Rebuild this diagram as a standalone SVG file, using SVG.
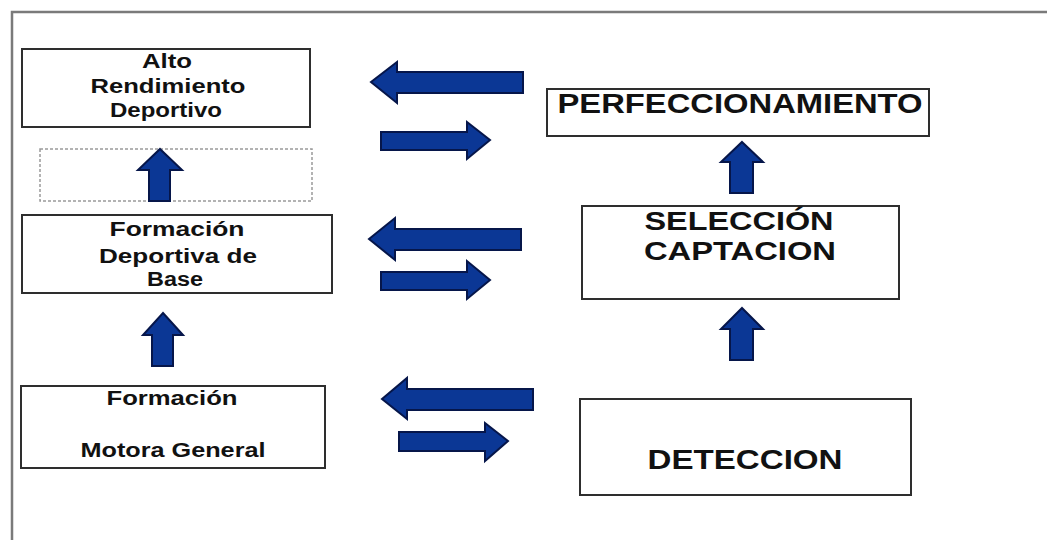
<svg xmlns="http://www.w3.org/2000/svg" width="1047" height="540" viewBox="0 0 1047 540">
<style>
.box{fill:#fff;stroke:#2e2e2e;stroke-width:2}
.dash{fill:none;stroke:#9a9a9a;stroke-width:1.5;stroke-dasharray:3 2}
.arr{fill:#0b3795;stroke:#06164a;stroke-width:2;stroke-linejoin:miter}
.t{font-family:"Liberation Sans",Arial,sans-serif;font-weight:bold;fill:#111;text-anchor:middle}
.s{font-size:20px}
.b{font-size:27px}
.frame{stroke:#7a7a7a;stroke-width:2.5;fill:none}
</style>
<rect width="1047" height="540" fill="#fff"/>
<path class="frame" d="M12,540 L12,12 L1047,12"/>
<g id="alto">
<rect class="box" x="22" y="49" width="288" height="78"/>
<text class="t s" x="167" y="68" textLength="50" lengthAdjust="spacingAndGlyphs">Alto</text>
<text class="t s" x="168" y="93" textLength="155" lengthAdjust="spacingAndGlyphs">Rendimiento</text>
<text class="t s" x="166" y="117" textLength="112" lengthAdjust="spacingAndGlyphs">Deportivo</text>
</g>
<g id="placeholder">
<rect class="dash" x="40" y="149" width="272" height="52"/>
</g>
<g id="deportiva">
<rect class="box" x="22" y="215" width="310" height="78"/>
<text class="t s" x="177" y="236" textLength="135" lengthAdjust="spacingAndGlyphs">Formación</text>
<text class="t s" x="178" y="263" textLength="158" lengthAdjust="spacingAndGlyphs">Deportiva de</text>
<text class="t s" x="175" y="286" textLength="56" lengthAdjust="spacingAndGlyphs">Base</text>
</g>
<g id="motora">
<rect class="box" x="21" y="386" width="304" height="82"/>
<text class="t s" x="172" y="405" textLength="131" lengthAdjust="spacingAndGlyphs">Formación</text>
<text class="t s" x="173" y="457" textLength="185" lengthAdjust="spacingAndGlyphs">Motora General</text>
</g>
<g id="perfeccionamiento">
<rect class="box" x="547" y="89" width="382" height="47"/>
<text class="t b" x="740" y="113" textLength="365" lengthAdjust="spacingAndGlyphs">PERFECCIONAMIENTO</text>
</g>
<g id="seleccion">
<rect class="box" x="582" y="206" width="317" height="93"/>
<text class="t" style="font-size:25px" x="739" y="230" textLength="189" lengthAdjust="spacingAndGlyphs">SELECCIÓN</text>
<text class="t" style="font-size:25px" x="740" y="260" textLength="192" lengthAdjust="spacingAndGlyphs">CAPTACION</text>
</g>
<g id="deteccion">
<rect class="box" x="580" y="399" width="331" height="96"/>
<text class="t b" x="745" y="469" textLength="195" lengthAdjust="spacingAndGlyphs">DETECCION</text>
</g>
<g id="connectors">
<path class="arr" d="M160,149 L182,170 L170,170 L170,201 L149,201 L149,170 L138,170 Z"/>
<path class="arr" d="M163,313 L183,335 L173,335 L173,366 L152,366 L152,335 L143,335 Z"/>
<path class="arr" d="M742,142 L763,162 L753,162 L753,193 L730,193 L730,162 L721,162 Z"/>
<path class="arr" d="M742,308 L763,329 L753,329 L753,360 L730,360 L730,329 L721,329 Z"/>
<path class="arr" d="M371,82 L397,62 L397,72 L523,72 L523,93 L397,93 L397,103 Z"/>
<path class="arr" d="M369,239 L395,218 L395,229 L521,229 L521,250 L395,250 L395,260 Z"/>
<path class="arr" d="M382,399 L407,378 L407,389 L533,389 L533,410 L407,410 L407,419 Z"/>
<path class="arr" d="M381,132 L467,132 L467,122 L490,140 L467,159 L467,150 L381,150 Z"/>
<path class="arr" d="M381,272 L467,272 L467,261 L490,280 L467,299 L467,290 L381,290 Z"/>
<path class="arr" d="M399,432 L485,432 L485,423 L508,441 L485,461 L485,451 L399,451 Z"/>
</g>
</svg>
